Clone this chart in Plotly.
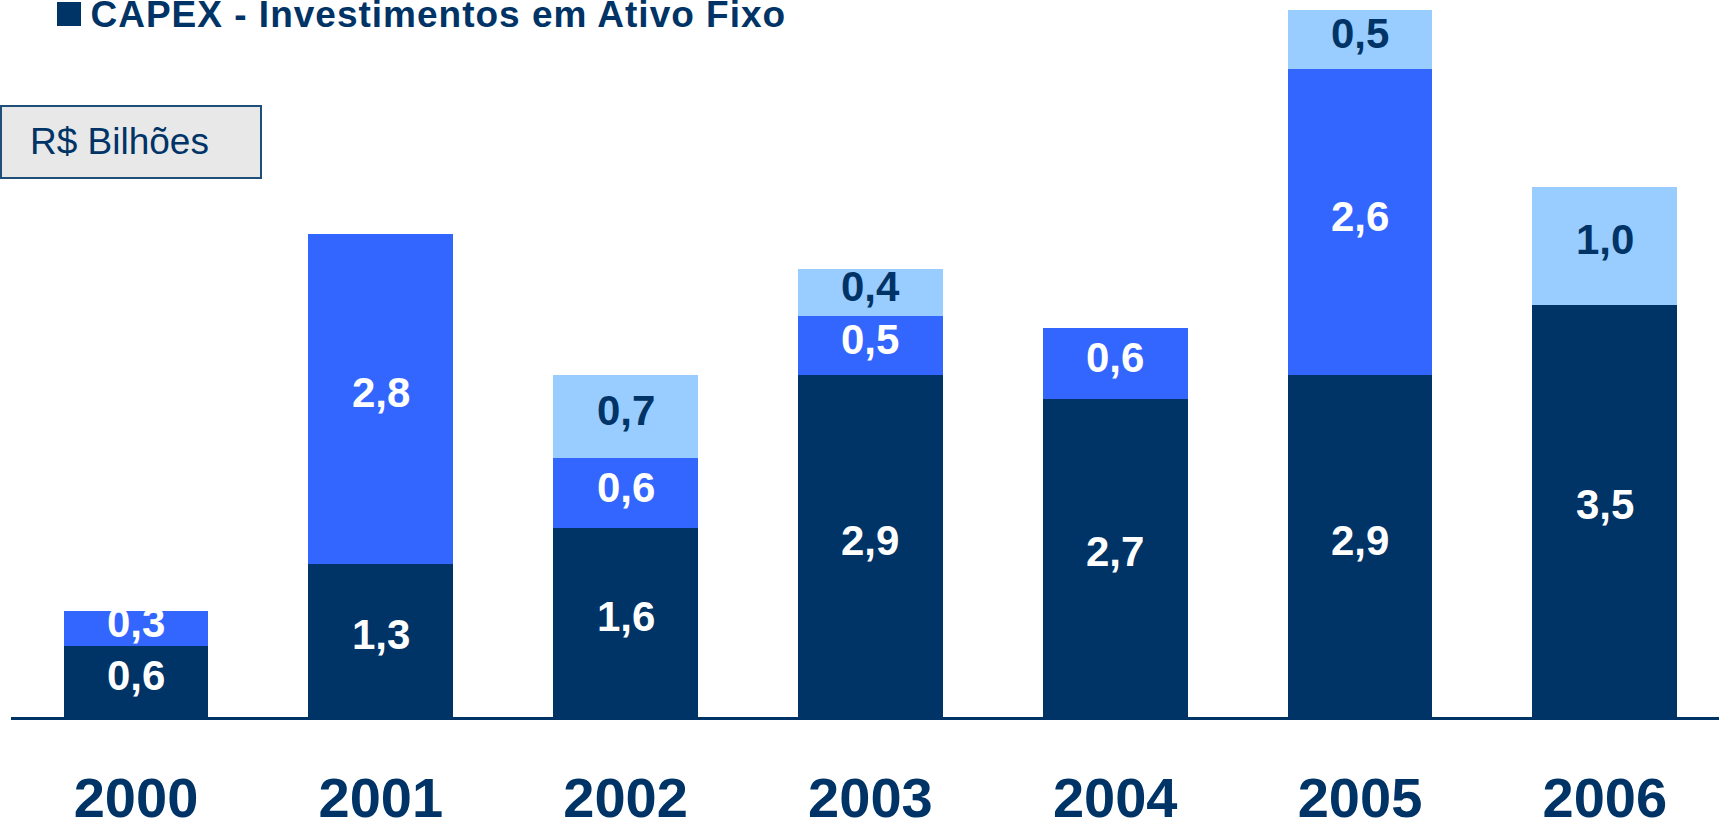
import plotly.graph_objects as go

years = ["2000", "2001", "2002", "2003", "2004", "2005", "2006"]
serie_escura = [0.6, 1.3, 1.6, 2.9, 2.7, 2.9, 3.5]
serie_media = [0.3, 2.8, 0.6, 0.5, 0.6, 2.6, None]
serie_clara = [None, None, 0.7, 0.4, None, 0.5, 1.0]

DARK = "#003366"
MID = "#3366FF"
LIGHT = "#99CCFF"

W, H = 1719, 822
ML, MR, MT, MB = 11, 0, 0, 105
PW = W - ML - MR
PH = H - MT - MB

def px(x):
    return (x - ML) / PW

def py(y):
    return (H - MB - y) / PH

fig = go.Figure()
base = [0.0] * len(years)
for vals, col, tcol in [(serie_escura, DARK, "white"),
                        (serie_media, MID, "white"),
                        (serie_clara, LIGHT, DARK)]:
    fig.add_trace(go.Bar(
        x=years, y=vals, marker=dict(color=col, line=dict(width=0)),
        hoverinfo="skip", showlegend=False,
    ))
    for i, v in enumerate(vals):
        if v is None:
            continue
        # category axis: annotation x is the category index
        fig.add_annotation(
            x=i, y=base[i] + v / 2, xref="x", yref="y",
            text=f"{v:.1f}".replace(".", ","), showarrow=False,
            xanchor="center", yanchor="middle", yshift=6,
            font=dict(family="Liberation Sans", size=42, color=tcol, weight="bold"),
        )
        base[i] += v

fig.update_layout(
    width=W, height=H, barmode="stack", bargap=0.408,
    margin=dict(l=ML, r=MR, t=MT, b=MB, pad=0),
    paper_bgcolor="white", plot_bgcolor="white",
    font=dict(family="Liberation Sans", color=DARK),
)
fig.update_xaxes(
    type="category",
    range=[-0.5106, 6.4665], showgrid=False, zeroline=False,
    showline=True, linecolor=DARK, linewidth=3,
    ticks="outside", ticklen=30, tickcolor="rgba(0,0,0,0)",
    tickfont=dict(family="Liberation Sans", size=56, color=DARK, weight="bold"),
    automargin=False,
)
fig.update_yaxes(range=[0, 6.084], showgrid=False, zeroline=False, showline=False,
                 showticklabels=False, ticks="", fixedrange=True)

# Title marker square and text
fig.add_shape(type="rect", xref="paper", yref="paper",
              x0=px(57), x1=px(81), y0=py(26), y1=py(2),
              fillcolor=DARK, line=dict(width=0))
fig.add_annotation(xref="paper", yref="paper", x=px(106), y=py(-8),
                   xanchor="left", yanchor="top", showarrow=False,
                   text="<b>CAPEX - Investimentos em Ativo Fixo</b>",
                   font=dict(family="Liberation Sans", size=37, color=DARK))

# Unit box
fig.add_shape(type="rect", xref="paper", yref="paper",
              x0=px(1), x1=px(261), y0=py(178), y1=py(106),
              fillcolor="#E8E8E8", line=dict(color="#1F4E79", width=2))
fig.add_annotation(xref="paper", yref="paper", x=px(28), y=py(142),
                   xanchor="left", yanchor="middle", showarrow=False,
                   text="R$ Bilhões",
                   font=dict(family="Liberation Sans", size=37, color=DARK))

post = """
document.body.style.margin='0';
document.body.style.overflow='hidden';
document.querySelectorAll('.annotation-text').forEach(function(t){
  if (t.textContent.indexOf('CAPEX') === 0) { t.style.letterSpacing = '1px'; }
});
"""
fig.write_html("out.html", post_script=post, config={"displayModeBar": False})
